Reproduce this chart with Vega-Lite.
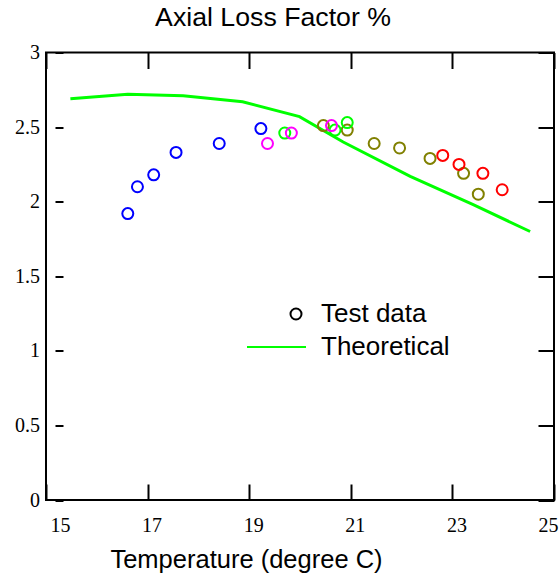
{
  "$schema": "https://vega.github.io/schema/vega-lite/v6.json",
  "width": 508,
  "height": 447.5,
  "autosize": {"type": "none"},
  "padding": {"left": 46, "top": 52.5, "right": 6, "bottom": 84},
  "background": "white",
  "config": {
    "view": {"stroke": "black", "strokeWidth": 2},
    "axis": {
      "grid": false, "domain": false, "tickColor": "black", "tickWidth": 2,
      "labelFont": "Liberation Serif", "labelFontSize": 20, "labelColor": "black",
      "titleFont": "Liberation Sans", "titleFontSize": 25.5, "titleColor": "black", "titleFontWeight": "normal"
    }
  },
  "title": {
    "text": "Axial Loss Factor %", "font": "Liberation Sans", "fontSize": 26.7, "fontWeight": "normal",
    "color": "black", "anchor": "middle", "dx": -27, "baseline": "alphabetic", "offset": -10
  },
  "datasets": {
    "theory": [
      {"t": 15.48, "v": 2.69}, {"t": 16.61, "v": 2.72}, {"t": 17.70, "v": 2.71},
      {"t": 18.87, "v": 2.67}, {"t": 19.99, "v": 2.57}, {"t": 20.85, "v": 2.40},
      {"t": 22.17, "v": 2.17}, {"t": 23.41, "v": 1.98}, {"t": 24.53, "v": 1.80}
    ],
    "points": [
      {"t": 16.61, "v": 1.92, "set": "blue"},
      {"t": 16.80, "v": 2.10, "set": "blue"},
      {"t": 17.12, "v": 2.18, "set": "blue"},
      {"t": 17.56, "v": 2.33, "set": "blue"},
      {"t": 18.41, "v": 2.39, "set": "blue"},
      {"t": 19.23, "v": 2.49, "set": "blue"},
      {"t": 20.46, "v": 2.51, "set": "olive"},
      {"t": 20.93, "v": 2.48, "set": "olive"},
      {"t": 21.46, "v": 2.39, "set": "olive"},
      {"t": 21.96, "v": 2.36, "set": "olive"},
      {"t": 22.56, "v": 2.29, "set": "olive"},
      {"t": 23.22, "v": 2.19, "set": "olive"},
      {"t": 23.51, "v": 2.05, "set": "olive"},
      {"t": 19.70, "v": 2.46, "set": "green"},
      {"t": 20.69, "v": 2.48, "set": "green"},
      {"t": 20.93, "v": 2.53, "set": "green"},
      {"t": 19.36, "v": 2.39, "set": "magenta"},
      {"t": 19.83, "v": 2.46, "set": "magenta"},
      {"t": 20.62, "v": 2.51, "set": "magenta"},
      {"t": 22.81, "v": 2.31, "set": "red"},
      {"t": 23.13, "v": 2.25, "set": "red"},
      {"t": 23.60, "v": 2.19, "set": "red"},
      {"t": 23.98, "v": 2.08, "set": "red"}
    ],
    "legendrows": []
  },
  "layer": [
    {
      "data": {"name": "theory"},
      "mark": {"type": "line", "color": "#00ff00", "strokeWidth": 3},
      "encoding": {
        "x": {
          "field": "t", "type": "quantitative",
          "scale": {"domain": [15, 25], "nice": false, "zero": false},
          "axis": {
            "orient": "bottom", "values": [15, 17, 19, 21, 23, 25], "tickSize": -16,
            "labelPadding": 31, "labelBaseline": "top", "labelFlush": true, "labelOffset": 4,
            "title": "Temperature (degree C)", "titleX": 200, "titleY": 67, "titleBaseline": "alphabetic"
          }
        },
        "y": {
          "field": "v", "type": "quantitative",
          "scale": {"domain": [0, 3], "nice": false, "zero": false},
          "axis": {
            "orient": "left", "values": [0, 0.5, 1, 1.5, 2, 2.5, 3], "format": "~g", "offset": -17, "tickSize": 8,
            "labelPadding": 15.5, "labelBaseline": "middle", "title": null
          }
        }
      }
    },
    {
      "data": {"name": "points"},
      "mark": {"type": "point", "filled": false, "size": 121, "strokeWidth": 2, "opacity": 1},
      "encoding": {
        "x": {
          "field": "t", "type": "quantitative",
          "scale": {"domain": [15, 25], "nice": false, "zero": false},
          "axis": {"orient": "top", "values": [15, 17, 19, 21, 23, 25], "tickSize": -16, "labels": false, "title": null}
        },
        "y": {
          "field": "v", "type": "quantitative",
          "scale": {"domain": [0, 3], "nice": false, "zero": false},
          "axis": {"orient": "right", "values": [0, 0.5, 1, 1.5, 2, 2.5, 3], "tickSize": -16, "labels": false, "title": null}
        },
        "color": {
          "field": "set", "type": "nominal",
          "scale": {"domain": ["blue", "magenta", "green", "olive", "red"], "range": ["#0000ff", "#ff00ff", "#00ff00", "#808000", "#ff0000"]},
          "legend": null
        }
      }
    },
    {
      "data": {"name": "legendrows"},
      "mark": {"type": "point", "filled": false, "strokeWidth": 2, "opacity": 1},
      "encoding": {
        "stroke": {
          "field": "kind", "type": "nominal",
          "scale": {"domain": ["Test data", "Theoretical"], "range": ["black", "#00ff00"]},
          "legend": {
            "orient": "none", "legendX": 237, "legendY": 248.5, "title": null, "padding": 0,
            "labelFont": "Liberation Sans", "labelFontSize": 26, "labelColor": "black", "labelOffset": 12,
            "symbolSize": 121, "rowPadding": 7, "symbolStrokeWidth": 2, "symbolFillColor": "transparent", "symbolOpacity": 1
          }
        },
        "shape": {
          "field": "kind", "type": "nominal",
          "scale": {"domain": ["Test data", "Theoretical"], "range": ["circle", "M-8.91,0H1.82"]},
          "legend": {
            "orient": "none", "legendX": 237, "legendY": 248.5, "title": null, "padding": 0,
            "labelFont": "Liberation Sans", "labelFontSize": 26, "labelColor": "black", "labelOffset": 12,
            "symbolSize": 121, "rowPadding": 7, "symbolStrokeWidth": 2, "symbolFillColor": "transparent", "symbolOpacity": 1
          }
        }
      }
    }
  ],
  "resolve": {"axis": {"x": "independent", "y": "independent"}}
}
